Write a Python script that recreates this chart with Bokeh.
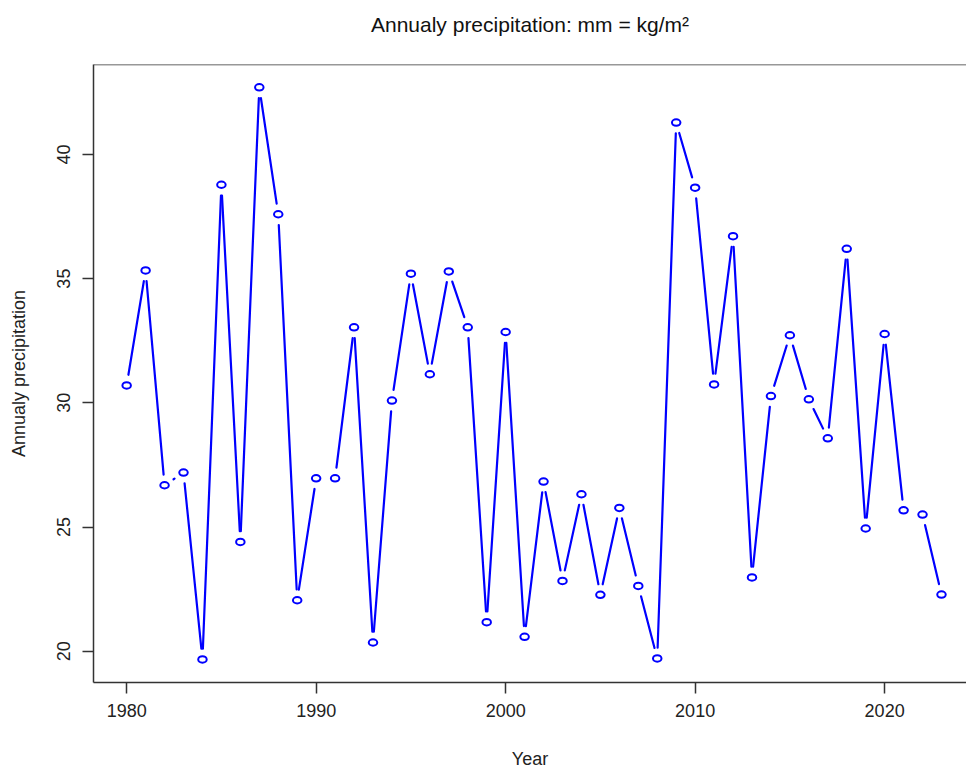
import math
from bokeh.plotting import figure
from bokeh.models import Range1d, FixedTicker, Span, ColumnDataSource, Title
from bokeh.embed import file_html
from bokeh.resources import INLINE

# ---- data ----
years = list(range(1980, 2024))
precip = [30.70, 35.33, 26.68, 27.19, 19.67, 38.78, 24.40, 42.70, 37.59, 22.05,
          26.96, 26.96, 33.04, 20.35, 30.09, 35.20, 31.15, 35.29, 33.04, 21.17,
          32.85, 20.58, 26.83, 22.83, 26.32, 22.27, 25.77, 22.63, 19.71, 41.28,
          38.66, 30.74, 36.71, 22.97, 30.27, 32.72, 30.14, 28.57, 36.20, 24.94,
          32.77, 25.67, 25.50, 22.28]
x_ticks = [1980, 1990, 2000, 2010, 2020]
y_ticks = [20, 25, 30, 35, 40]
title_text = "Annualy precipitation: mm = kg/m\u00b2"
x_label = "Year"
y_label = "Annualy precipitation"

# ---- layout ----
W, H = 966, 771
BL, BR, BT, BB = 93, 0, 64, 88
X0, X1 = 1978.25, 2024.32
Y0, Y1 = 18.74, 43.62
FONT = "Liberation Sans"
BLUE = "#0000FF"

p = figure(width=W, height=H, output_backend="svg", toolbar_location=None,
           x_range=Range1d(X0, X1), y_range=Range1d(Y0, Y1),
           min_border_left=BL, min_border_right=BR, min_border_top=BT,
           min_border_bottom=BB)
p.outline_line_color = None
p.grid.visible = False
p.background_fill_color = "white"
p.border_fill_color = "white"

# spacer between frame and title (nearest to frame), then the title itself
p.add_layout(Title(text=" ", text_font_size="1px", standoff=26), "above")
p.add_layout(Title(text=title_text, align="center", vertical_align="bottom",
                   text_font=FONT, text_font_size="21px", text_font_style="normal",
                   text_color="#111111", standoff=0, offset=4), "above")

for ax in (p.xaxis[0], p.yaxis[0]):
    ax.axis_line_color = "#333333"
    ax.axis_line_width = 1.5
    ax.major_tick_line_color = "#333333"
    ax.major_tick_line_width = 1.5
    ax.major_tick_out = 11
    ax.major_tick_in = 0
    ax.minor_tick_line_color = None
    ax.major_label_text_font = FONT
    ax.major_label_text_font_size = "18px"
    ax.major_label_text_color = "#222222"
    ax.axis_label_text_font = FONT
    ax.axis_label_text_font_size = "18px"
    ax.axis_label_text_font_style = "normal"
    ax.axis_label_text_color = "#222222"

p.xaxis.ticker = FixedTicker(ticks=x_ticks)
p.yaxis.ticker = FixedTicker(ticks=y_ticks)
p.xaxis.axis_label = x_label
p.yaxis.axis_label = y_label
p.xaxis.major_label_standoff = 10
p.xaxis.axis_label_standoff = 29
p.yaxis.major_label_orientation = "vertical"
p.yaxis.major_label_standoff = 12
p.yaxis.axis_label_standoff = 26

# top frame line
p.add_layout(Span(location=Y1, dimension="width", line_color="#333333", line_width=1.5))

# ---- lines with gaps around points (R type="b") ----
fw = W - BL - BR
fh = H - BT - BB
sx = fw / (X1 - X0)
sy = fh / (Y1 - Y0)
gap = 10.8
x0s, y0s, x1s, y1s = [], [], [], []
for i in range(len(years) - 1):
    xa, ya, xb, yb = years[i], precip[i], years[i + 1], precip[i + 1]
    dxp = (xb - xa) * sx
    dyp = (yb - ya) * sy
    d = math.hypot(dxp, dyp)
    if d <= 2 * gap:
        continue
    f = gap / d
    x0s.append(xa + (xb - xa) * f)
    y0s.append(ya + (yb - ya) * f)
    x1s.append(xb - (xb - xa) * f)
    y1s.append(yb - (yb - ya) * f)

p.segment(x0=x0s, y0=y0s, x1=x1s, y1=y1s, line_color=BLUE, line_width=2.2,
          line_cap="round")

src = ColumnDataSource(dict(x=years, y=precip))
p.ellipse(x="x", y="y", width=8.5, height=6.5, width_units="screen",
          height_units="screen", fill_color=None, line_color=BLUE,
          line_width=2, source=src)

open("out.html", "w").write(file_html(p, INLINE))
